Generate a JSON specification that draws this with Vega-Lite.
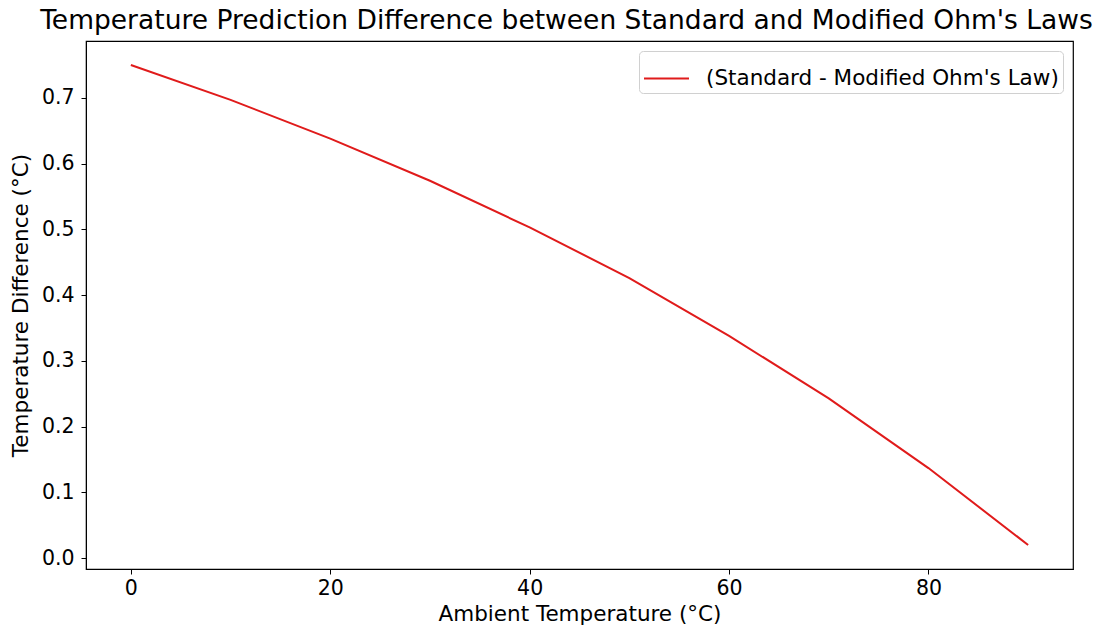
{
  "$schema": "https://vega.github.io/schema/vega-lite/v6.json",
  "width": 987,
  "height": 528,
  "autosize": {"type": "none"},
  "padding": {"left": 86, "top": 41, "right": 26, "bottom": 59},
  "background": "white",
  "title": {
    "text": "Temperature Prediction Difference between Standard and Modified Ohm's Laws",
    "font": "DejaVu Sans",
    "fontSize": 26.5,
    "fontWeight": "normal",
    "color": "#000000",
    "anchor": "middle",
    "offset": 7,
    "dx": -13
  },
  "config": {
    "view": {"stroke": "#000000", "strokeWidth": 1.2},
    "axis": {
      "labelFont": "DejaVu Sans",
      "titleFont": "DejaVu Sans",
      "labelFontSize": 20.5,
      "titleFontSize": 21.5,
      "titleFontWeight": "normal",
      "labelColor": "#000000",
      "titleColor": "#000000",
      "domainColor": "#000000",
      "tickColor": "#000000",
      "tickSize": 5,
      "grid": false
    },
    "legend": {
      "labelFont": "DejaVu Sans",
      "labelFontSize": 21.5
    }
  },
  "data": {
    "values": [
      {"t": 0, "d": 0.75, "s": "(Standard - Modified Ohm's Law)"},
      {"t": 10, "d": 0.697, "s": "(Standard - Modified Ohm's Law)"},
      {"t": 20, "d": 0.638, "s": "(Standard - Modified Ohm's Law)"},
      {"t": 30, "d": 0.574, "s": "(Standard - Modified Ohm's Law)"},
      {"t": 40, "d": 0.503, "s": "(Standard - Modified Ohm's Law)"},
      {"t": 50, "d": 0.426, "s": "(Standard - Modified Ohm's Law)"},
      {"t": 60, "d": 0.338, "s": "(Standard - Modified Ohm's Law)"},
      {"t": 70, "d": 0.243, "s": "(Standard - Modified Ohm's Law)"},
      {"t": 80, "d": 0.137, "s": "(Standard - Modified Ohm's Law)"},
      {"t": 90, "d": 0.02, "s": "(Standard - Modified Ohm's Law)"}
    ]
  },
  "mark": {"type": "line", "strokeWidth": 2, "clip": true},
  "encoding": {
    "x": {
      "field": "t",
      "type": "quantitative",
      "scale": {"domain": [-4.5, 94.5], "nice": false, "zero": false},
      "axis": {
        "values": [0, 20, 40, 60, 80],
        "format": "d",
        "title": "Ambient Temperature (°C)",
        "labelPadding": 4,
        "titlePadding": 5
      }
    },
    "y": {
      "field": "d",
      "type": "quantitative",
      "scale": {"domain": [-0.0165, 0.7865], "nice": false, "zero": false},
      "axis": {
        "values": [0, 0.1, 0.2, 0.3, 0.4, 0.5, 0.6, 0.7],
        "format": ".1f",
        "title": "Temperature Difference (°C)",
        "labelPadding": 7,
        "titlePadding": 9
      }
    },
    "color": {
      "field": "s",
      "type": "nominal",
      "scale": {"range": ["#e01b1b"]},
      "legend": {
        "title": null,
        "orient": "top-right",
        "offset": 10,
        "symbolType": "stroke",
        "symbolSize": 2025,
        "symbolStrokeWidth": 2,
        "strokeColor": "#d0d0d0",
        "fillColor": "white",
        "cornerRadius": 4,
        "padding": 4,
        "labelOffset": 16,
        "labelLimit": 600
      }
    }
  }
}
